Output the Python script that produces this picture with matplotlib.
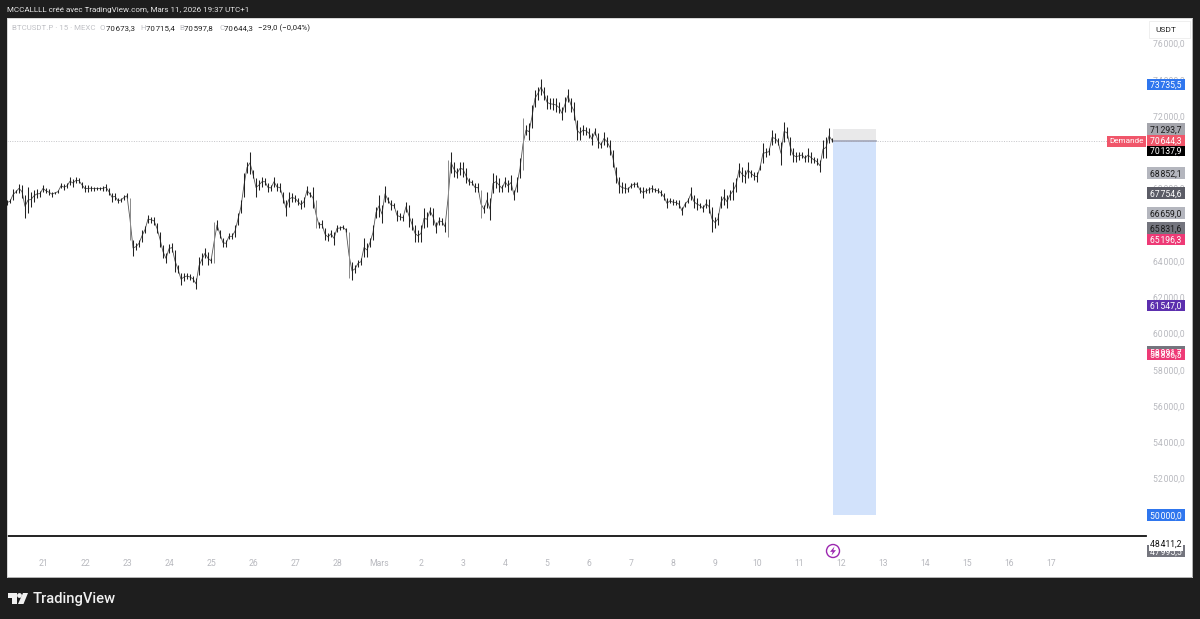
# BTCUSDT.P 15 min chart rebuilt from a TradingView screenshot
import numpy as np
import matplotlib
matplotlib.use("Agg")
import matplotlib.pyplot as plt
from matplotlib.patches import Rectangle, Polygon, Circle

plt.rcParams['font.family'] = ['Roboto', 'DejaVu Sans']

# highs and lows, one bar for every 1/14 of a day
highs = [
    67365, 67400, 67950, 67920, 68250, 68190, 67640, 68100, 67820, 67920, 67950, 67880,
    68190, 68010, 67950, 67825, 67825, 67920, 68285, 68230, 68285, 68615, 68505, 68615,
    68580, 68380, 68190, 68190, 68140, 68100, 68100, 68065, 68140, 68250, 68010, 67770,
    67770, 67460, 67460, 67640, 67730, 67460, 65160, 64975, 65160, 65710, 65930, 66540,
    66445, 66445, 66080, 65620, 64880, 64420, 64940, 64975, 64610,
    63780, 63320, 63320, 63355, 63285, 63170, 63045, 64240, 64420, 64700, 64515, 64150,
    66170, 66260, 65710, 65250, 65160, 65525, 65525, 65985, 66630, 67365, 68835, 69480,
    70030, 69020, 68560, 68470, 68650, 68560, 68285, 68190, 68650, 68285, 68285, 67825,
    67365, 67825, 67730, 67640, 67460, 67365, 67550, 68140, 67825, 68065, 67365, 66170,
    66260, 65800, 65525, 65710, 65620, 65985, 65930, 65985,
    65800, 65620, 63960, 63780, 64055, 64150, 65250, 64975, 65250, 65985, 67000, 67640,
    67090, 68140, 67550, 67365, 67220, 66815, 66630, 66540, 67275, 67090, 66355, 65985,
    65710, 65985, 66905, 66720, 67000, 66905, 66170, 66445, 66355, 66170, 69570, 70030,
    69480, 69110, 69480, 69480, 69110, 68560, 68470, 68285, 68285, 67920, 67090, 67825,
    67460, 68835, 68745, 68560, 68190, 68650, 68470, 68745, 67920,
    68650, 69665, 71870, 71500, 71595, 72605, 73435, 73620, 74025, 73620, 73160, 72975,
    72975, 72975, 72790, 72515, 73065, 73470, 72975, 72790, 71780, 71410, 71500, 71410,
    71320, 71045, 71320, 71045, 70585, 71135, 70860, 70675, 70125, 69205, 68650, 68375,
    68285, 68100, 68285, 68375, 68375, 68100, 68100, 68010, 68100, 68190, 68010, 68010,
    67920, 67735, 67460, 67460,
    67400, 67365, 67365, 67000, 67275, 67460, 68065, 67640, 67460, 67220, 67090, 67400,
    67400, 67000, 66445, 66665, 67585, 67955, 67640, 67915, 68375, 68560, 69390, 69205,
    69020, 69480, 69020, 68930, 68930, 69295, 70490, 70215, 70215, 71230, 71045, 70770,
    70585, 71690, 71410, 70860, 70215, 70030, 70030, 70030, 69850, 70215, 70030, 69755,
    69665, 69575, 70675, 70860, 71320, 70770,
]
lows = [
    67090, 67180, 67365, 67730, 67770, 67460, 66390, 66630, 66960, 67275, 67460, 67550,
    67825, 67730, 67640, 67550, 67700, 67730, 68010, 67920, 68010, 68190, 68100, 68285,
    68285, 68010, 67790, 67825, 67880, 67880, 67920, 67920, 67880, 67880, 67640, 67275,
    67365, 67180, 67275, 67365, 67460, 65160, 64275, 64610, 64790, 65065, 65525, 66080,
    66115, 65985, 65525, 64790, 64150, 63870, 64420, 64515, 63410,
    63320, 62675, 62915, 62990, 62950, 62860, 62435, 63225, 63780, 64150, 63780, 63870,
    63870, 65710, 65250, 64755, 64790, 65195, 65195, 65305, 65985, 66630, 67550, 68835,
    68800, 68560, 67550, 67920, 68100, 68190, 67825, 67880, 68100, 67880, 67825, 67180,
    66480, 67000, 67275, 67275, 67090, 66850, 67000, 67640, 67550, 66905, 65800, 65800,
    65800, 65160, 65120, 65305, 64880, 65620, 65710, 65750,
    65620, 63045, 62950, 63355, 63690, 63780, 64240, 64240, 64790, 65160, 66355, 66445,
    66080, 67275, 67180, 66815, 66905, 66225, 66260, 66225, 66720, 65895, 65710, 65065,
    65065, 65065, 65800, 65895, 66540, 65985, 65565, 65985, 65985, 65620, 65305, 68835,
    68650, 68560, 68745, 68650, 68285, 68190, 68190, 67825, 67825, 66355, 66630, 66905,
    66260, 67730, 68010, 67825, 67825, 68100, 67825, 67920, 67365,
    67825, 68560, 69020, 70950, 70675, 71320, 72515, 72885, 73160, 72885, 72370, 72370,
    72330, 72240, 72150, 71780, 72240, 72790, 72240, 71780, 70675, 70675, 70950, 70950,
    70770, 70400, 70950, 70215, 70215, 70400, 70310, 69850, 69205, 68285, 67735, 67735,
    67735, 67825, 68010, 68100, 68100, 67735, 67460, 67735, 67770, 67825, 67825, 67735,
    67585, 67365, 66905, 67180,
    67090, 67090, 66905, 66540, 67000, 67180, 67365, 66905, 66815, 66905, 66720, 66905,
    66630, 65620, 65800, 65985, 66905, 67090, 66905, 67365, 67365, 67825, 68650, 68375,
    68285, 68560, 68650, 68470, 68375, 69020, 69390, 69760, 69850, 70400, 70490, 70400,
    69295, 70585, 70770, 69850, 69480, 69480, 69575, 69665, 69480, 69480, 69390, 69390,
    69295, 68930, 69665, 69665, 70490, 70545,
]

day_labels = ['21', '22', '23', '24', '25', '26', '27', '28', 'Mars', '2', '3', '4', '5',
              '6', '7', '8', '9', '10', '11', '12', '13', '14', '15', '16', '17']
price_ticks = [76000, 74000, 72000, 70000, 68000, 66000, 64000, 62000,
               60000, 58000, 56000, 54000, 52000]

# price tags on the axis: value, box colour, text colour (drawn in this order)
tag_prices = [73735.5, 71293.7, 70137.9, 70644.3, 68852.1, 67754.6, 66659.0,
              65831.6, 65196.3, 61547.0, 58991.7, 58836.5, 50000.0, 47995.5]
tag_colors = ['#2f76ee', '#a5a6ad', '#000000', '#f0566a', '#b4b6be', '#5b5c66', '#b4b6be',
              '#74757e', '#ee3a76', '#5c2fae', '#74757e', '#ee3a76', '#2f76ee', '#74757e']
tag_text = ['white', '#1a1a1a', 'white', 'white', '#1a1a1a', 'white', '#1a1a1a',
            '#1a1a1a', 'white', 'white', 'white', 'white', 'white', 'white']

last_close = 70644.3
stop_price = 71293.7
target_price = 50000.0
black_line = 48830.0
low_label = 48411.2
DARK = '#1e1e1e'
AXIS_SIZE = 6.2
LEGEND_SIZE = 5.7


def fmt(v, dec=1):
    s = f"{v:,.{dec}f}"
    return s.replace(',', '\u200a').replace('.', ',')


W, H = 1200, 619
fig = plt.figure(figsize=(W / 100, H / 100), dpi=100, facecolor=DARK)

# panel runs from pixel 7 to 1192 and from 18 to 577
ax = fig.add_axes([7 / W, 1 - 577 / H, 1185 / W, 559 / H], facecolor='white')
ax.set_xlim(-36 / 42, 1149 / 42)
ax.set_ylim(46566, 77407)
for s in ax.spines.values():
    s.set_color('#d0d0d0')
    s.set_linewidth(0.6)

days = np.arange(len(day_labels))
ax.set_xticks(days)
ax.set_xticklabels(day_labels)
ax.set_yticks(price_ticks)
ax.set_yticklabels([fmt(p) for p in price_ticks])
ax.yaxis.tick_right()
ax.tick_params(axis='y', length=0, pad=-28, labelsize=AXIS_SIZE, labelcolor='#b8b9bf')
ax.tick_params(axis='x', length=0, pad=-13, labelsize=AXIS_SIZE, labelcolor='#b8b9bf')

# right edge of the plotting area, in days
plot_end = 1103 / 42
tag_x0, tag_x1 = 1104 / 42, 1142 / 42
tag_h = 11.5 / 0.018125  # price height of a tag

# position tool
box_x0, box_x1 = 18.81, 19.83
ax.add_patch(Rectangle((box_x0, target_price), box_x1 - box_x0, last_close - target_price,
                       facecolor='#d2e2fb', edgecolor='none', zorder=1))
ax.add_patch(Rectangle((box_x0, last_close), box_x1 - box_x0, stop_price - last_close,
                       facecolor='#e9e9ea', edgecolor='none', zorder=1))
ax.plot([box_x0, box_x1], [last_close, last_close], color='#a3a6b8', lw=1.2, zorder=2)

# last price dotted line and the black line near the bottom
ax.plot([-36 / 42, 1066 / 42], [last_close, last_close], color='#c4c4c8', lw=0.7,
        ls=(0, (1, 1.5)), zorder=1)
ax.plot([-36 / 42, plot_end], [black_line, black_line], color='#111111', lw=1.3, zorder=2)

# bars
highs = np.array(highs, dtype=float)
lows = np.array(lows, dtype=float)
x = -36 / 42 + np.arange(len(highs)) / 14
tall = highs - lows > 1500
ax.plot(x, (highs + lows) / 2, color='#555555', lw=0.6, zorder=3)
ax.vlines(x[~tall], lows[~tall], highs[~tall], color='#222222', lw=0.75, zorder=4)
ax.vlines(x[tall], lows[tall], highs[tall], color='#8a8a8a', lw=0.7, zorder=4)

# price tags
for p, c, t in zip(tag_prices, tag_colors, tag_text):
    ax.add_patch(Rectangle((tag_x0, p - tag_h / 2), tag_x1 - tag_x0, tag_h,
                           facecolor=c, edgecolor='none', zorder=6))
    ax.text((tag_x0 + tag_x1) / 2, p, fmt(p), color=t, fontsize=AXIS_SIZE, ha='center',
            va='center_baseline', zorder=7)

# label with white backing, it covers the top of the tag below it
ax.text((tag_x0 + tag_x1) / 2, low_label, fmt(low_label), color='#111111', fontsize=AXIS_SIZE,
        ha='center', va='center_baseline', zorder=9,
        bbox=dict(facecolor='white', edgecolor='none', pad=1.2))

# overlay in pixel coordinates for the header, logo and small widgets
ov = fig.add_axes([0, 0, 1, 1], facecolor='none', zorder=5)
ov.set_xlim(0, W)
ov.set_ylim(H, 0)
ov.axis('off')

ov.text(7, 10, 'MCCALLLL créé avec TradingView.com, Mars 11, 2026 19:37 UTC+1',
        color='#e6e6e6', fontsize=5.75, va='center')

ov.text(12, 28, 'BTCUSDT.P · 15 · MEXC', color='#c0c1c6', fontsize=LEGEND_SIZE, va='center')
legend_letters = ['O', 'H', 'B', 'C']
legend_values = [70673.3, 70715.4, 70597.8, 70644.3]
legend_x = [100, 140, 179, 219]
for lx, letter, val in zip(legend_x, legend_letters, legend_values):
    ov.text(lx, 28, letter, color='#c0c1c6', fontsize=LEGEND_SIZE, va='center')
    ov.text(lx + 5.5, 28, fmt(val), color='#222222', fontsize=LEGEND_SIZE, va='center')
ov.text(258, 28, '\u221229,0 (\u22120,04%)', color='#222222', fontsize=LEGEND_SIZE, va='center')

# USDT button
ov.add_patch(Rectangle((1149, 21), 41, 17, facecolor='white', edgecolor='#ececec',
                       lw=0.6, zorder=3))
ov.text(1155, 30, 'USDT', color='#222222', fontsize=6, va='center', zorder=4)

# Demande tag
ov.add_patch(Rectangle((1107, 135.5), 39, 11.5, facecolor='#f0566a', edgecolor='none'))
ov.text(1126.5, 141.3, 'Demande', color='white', fontsize=5.9, ha='center', va='center')

# lightning icon
ov.add_patch(Circle((833, 551), 6.5, facecolor='white', edgecolor='#9c27b0', lw=1.0))
ov.add_patch(Polygon([(834.5, 546.5), (830, 551.8), (832.7, 551.8), (831.5, 555.5),
                      (836, 550.2), (833.3, 550.2)], facecolor='#9c27b0', edgecolor='none'))

# TradingView logo
logo = '#f0f0f0'
ov.add_patch(Polygon([(8, 593), (17, 593), (17, 604), (12, 604), (12, 598), (8, 598)],
                     facecolor=logo, edgecolor='none'))
ov.add_patch(Circle((19.5, 595.5), 2.4, facecolor=logo, edgecolor='none'))
ov.add_patch(Polygon([(23, 593), (28, 593), (23.5, 604), (18, 604)],
                     facecolor=logo, edgecolor='none'))
ov.text(33, 598.5, 'TradingView', color='#f0f0f0', fontsize=10.6, fontweight='medium',
        va='center')

fig.savefig('out.png', dpi=100, facecolor=DARK)
